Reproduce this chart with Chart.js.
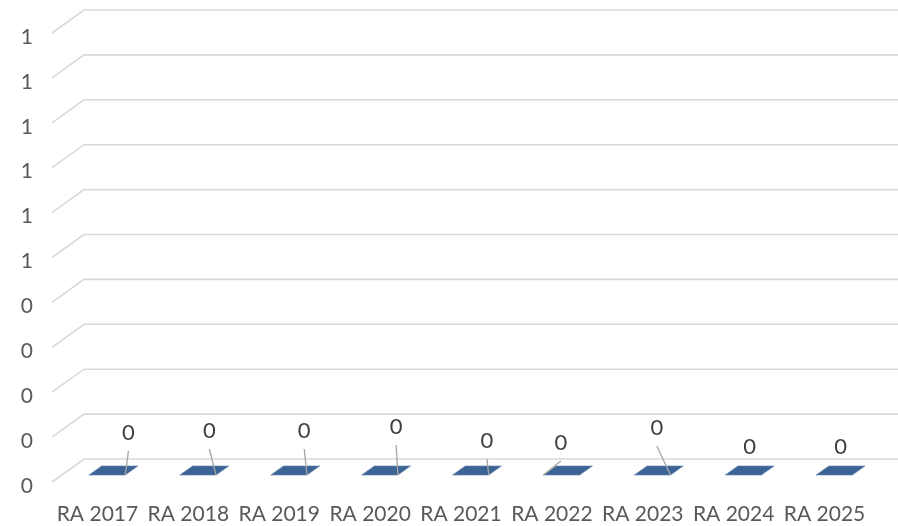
<!DOCTYPE html>
<html>
<head>
<meta charset="utf-8">
<script src="https://cdn.jsdelivr.net/npm/chart.js@4"></script>
<style>
  html, body { margin: 0; padding: 0; background: #fff; }
  #wrap { width: 898px; height: 526px; }
</style>
</head>
<body>
<div id="wrap"><canvas id="raChart" width="898" height="526"></canvas></div>
<script>
// dados
const categorias = ['RA 2017', 'RA 2018', 'RA 2019', 'RA 2020', 'RA 2021', 'RA 2022', 'RA 2023', 'RA 2024', 'RA 2025'];
const valores = [0, 0, 0, 0, 0, 0, 0, 0, 0];
const eixoMin = 0;
const eixoMax = 1;
const eixoPasso = 0.1;

const corBarra = '#3b6494';
const corGrade = '#d9d9d9';
const corTexto = '#595959';
const corRotulo = '#404040';
const fonte = 'Lato, "Liberation Sans", sans-serif';

// profundidade do "3D"
const profX = 32;
const profY = 23;

// posição dos rótulos de dados (estilo, relativo ao centro da barra / chão)
const rotuloDesloc = [[31, -49], [21, -51], [25, -51], [26, -55], [26, -41], [9, -39], [14, -54], [16, -35], [16, -35]];
const rotuloLinha = ['r', 'r', 'r', 'r', 'r', 'l', 'r', null, null];

const grade3d = {
  id: 'grade3d',
  beforeDatasetsDraw(chart) {
    const c = chart.ctx;
    const y = chart.scales.y;
    const area = chart.chartArea;
    c.save();
    c.strokeStyle = corGrade;
    c.lineWidth = 1.6;
    y.ticks.forEach(t => {
      const py = y.getPixelForValue(t.value);
      c.beginPath();
      c.moveTo(area.left, py);
      c.lineTo(area.left + profX, py - profY);
      c.lineTo(chart.width, py - profY);
      c.stroke();
    });
    c.restore();
  },
  afterDatasetsDraw(chart) {
    const c = chart.ctx;
    const y = chart.scales.y;
    const meta = chart.getDatasetMeta(0);
    c.save();
    meta.data.forEach((bar, i) => {
      const chao = y.getPixelForValue(valores[i]);
      const w = bar.width;
      const f1 = 0.3, f2 = 0.7;
      const x0 = bar.x - w / 2;
      c.beginPath();
      c.moveTo(x0 + f1 * profX, chao - f1 * profY);
      c.lineTo(x0 + w + f1 * profX, chao - f1 * profY);
      c.lineTo(x0 + w + f2 * profX, chao - f2 * profY);
      c.lineTo(x0 + f2 * profX, chao - f2 * profY);
      c.closePath();
      c.fillStyle = corBarra;
      c.fill();
      c.strokeStyle = '#6f8fb8';
      c.lineWidth = 0.6;
      c.stroke();

      // rótulo
      const lx = bar.x + rotuloDesloc[i][0];
      const ly = chao + rotuloDesloc[i][1];
      if (rotuloLinha[i]) {
        const ax = rotuloLinha[i] === 'r' ? x0 + w + f1 * profX : x0 + f1 * profX;
        c.beginPath();
        c.moveTo(lx, ly + 18);
        c.lineTo(ax, chao - f1 * profY);
        c.strokeStyle = '#a6a6a6';
        c.lineWidth = 1.3;
        c.stroke();
      }
      c.fillStyle = corRotulo;
      c.font = '22px ' + fonte;
      c.textAlign = 'center';
      c.textBaseline = 'middle';
      c.fillText(String(valores[i]), lx, ly);
    });
    c.restore();
  }
};

new Chart(document.getElementById('raChart'), {
  type: 'bar',
  data: {
    labels: categorias,
    datasets: [{
      data: valores,
      backgroundColor: 'rgba(0,0,0,0)',
      borderWidth: 0,
      categoryPercentage: 1,
      barPercentage: 0.4
    }]
  },
  options: {
    responsive: false,
    animation: false,
    layout: { padding: { top: 33, right: 28, left: 0, bottom: 0 } },
    plugins: {
      legend: { display: false },
      tooltip: { enabled: false }
    },
    scales: {
      y: {
        min: eixoMin,
        max: eixoMax,
        border: { display: false },
        grid: { display: false },
        afterFit: s => { s.width = 52; },
        ticks: {
          stepSize: eixoPasso,
          padding: 11,
          labelOffset: 4,
          color: corTexto,
          font: { size: 21, family: fonte },
          callback: v => Math.round(v)
        }
      },
      x: {
        border: { display: false },
        grid: { display: false },
        afterFit: s => { s.height = 44; },
        ticks: {
          padding: 12,
          color: corTexto,
          maxRotation: 0,
          autoSkip: false,
          font: { size: 21, family: fonte }
        }
      }
    }
  },
  plugins: [grade3d]
});
</script>
</body>
</html>
